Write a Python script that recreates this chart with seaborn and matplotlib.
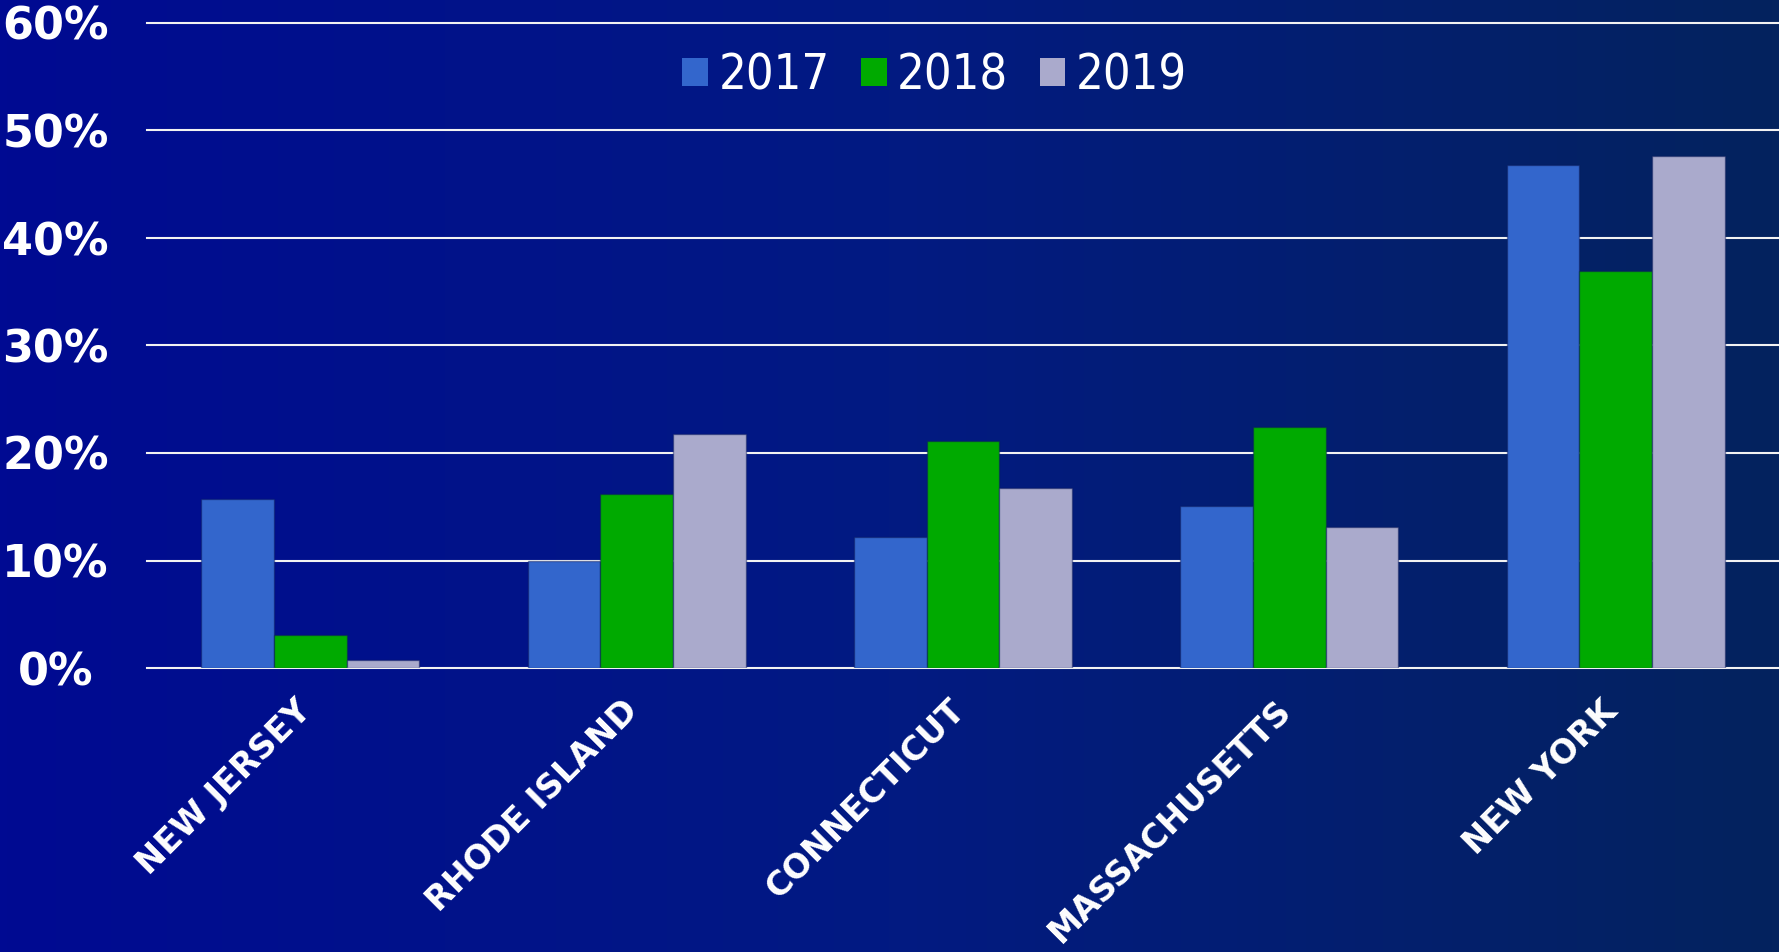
import numpy as np
import pandas as pd
import seaborn as sns
import matplotlib.pyplot as plt
import matplotlib.transforms as mtransforms
from matplotlib import font_manager
from matplotlib.colors import LinearSegmentedColormap

# chart data (share of total, in percent)
states = ['NEW JERSEY', 'RHODE ISLAND', 'CONNECTICUT', 'MASSACHUSETTS', 'NEW YORK']
years = ['2017', '2018', '2019']
share_2017 = [15.7, 10.0, 12.2, 15.1, 46.8]
share_2018 = [3.1, 16.2, 21.1, 22.4, 36.9]
share_2019 = [0.7, 21.8, 16.7, 13.1, 47.6]
yticks = [0, 10, 20, 30, 40, 50, 60]
ytick_labels = [f'{v}%' for v in yticks]

colors = ['#3366CC', '#00AA00', '#AAAACC']

df = pd.DataFrame({
    'state': states * 3,
    'year': [y for y in years for _ in states],
    'share': share_2017 + share_2018 + share_2019,
})

plt.rcParams['font.family'] = ['DejaVu Sans']

# legend text is a narrow face in the original; use a condensed one if there is one
narrow = [f.name for f in font_manager.fontManager.ttflist
          if f.stretch in ('condensed', 'semi-condensed') or 'Narrow' in f.name]
if narrow:
    legend_prop = {'family': [narrow[0], 'DejaVu Sans'], 'stretch': 'condensed', 'size': 35}
else:
    legend_prop = {'family': ['DejaVu Sans'], 'size': 31}

W, H = 1779, 952
fig = plt.figure(figsize=(W / 100, H / 100), dpi=100)

# background gradient, deep blue on the left to navy on the right
bg = fig.add_axes([0, 0, 1, 1], zorder=0)
grad_cmap = LinearSegmentedColormap.from_list('bg', ['#000A92', '#021A82', '#04235E'])
bg.imshow(np.linspace(0, 1, 512).reshape(1, -1), aspect='auto', cmap=grad_cmap,
          extent=[0, 1, 0, 1])
bg.axis('off')

# plot area: 0% line at y=668 px, 60% line at y=23 px
left_px, zero_px, top_px = 147, 668, 23
ax = fig.add_axes([left_px / W, (H - zero_px) / H, 1 - left_px / W, (zero_px - top_px) / H],
                  zorder=1)
ax.patch.set_alpha(0)

sns.barplot(data=df, x='state', y='share', hue='year', palette=colors, width=0.668,
            edgecolor=(0.05, 0.1, 0.35, 0.45), linewidth=1, saturation=1, ax=ax, zorder=2)

ax.set_ylim(0, 60)
ax.set_xlim(-0.5, 4.5)
ax.set_yticks(yticks)
ax.set_yticklabels(ytick_labels)
ax.set_xlabel('')
ax.set_ylabel('')
for s in ax.spines.values():
    s.set_visible(False)

ax.set_axisbelow(True)
ax.yaxis.grid(True, color='#F2F2F2', linewidth=1.5)
ax.xaxis.grid(False)
for gl in ax.get_ygridlines():
    gl.set_clip_on(False)

ax.tick_params(axis='y', length=0, pad=66, labelsize=32, labelcolor='white')
for lbl in ax.get_yticklabels():
    lbl.set_fontweight('bold')
    lbl.set_ha('center')

ax.set_xticks(range(len(states)))
ax.set_xticklabels(states, rotation=45, ha='right', va='baseline', rotation_mode='anchor',
                   fontsize=24, fontweight='bold', color='white')
ax.tick_params(axis='x', length=0, pad=32)
shift = mtransforms.ScaledTranslation(0.03, 0, fig.dpi_scale_trans)
for lbl in ax.get_xticklabels():
    lbl.set_transform(lbl.get_transform() + shift)

handles, labels = ax.get_legend_handles_labels()
ax.legend(handles, labels, loc='center', bbox_to_anchor=(0.5255, 0.921),
          bbox_transform=fig.transFigure, ncol=3, frameon=False,
          prop=legend_prop, labelcolor='white',
          handlelength=0.52, handleheight=0.52,
          handletextpad=0.22, columnspacing=0.65)
for h in ax.get_legend().legend_handles:
    h.set_edgecolor('none')

fig.savefig('out.png', dpi=100)
